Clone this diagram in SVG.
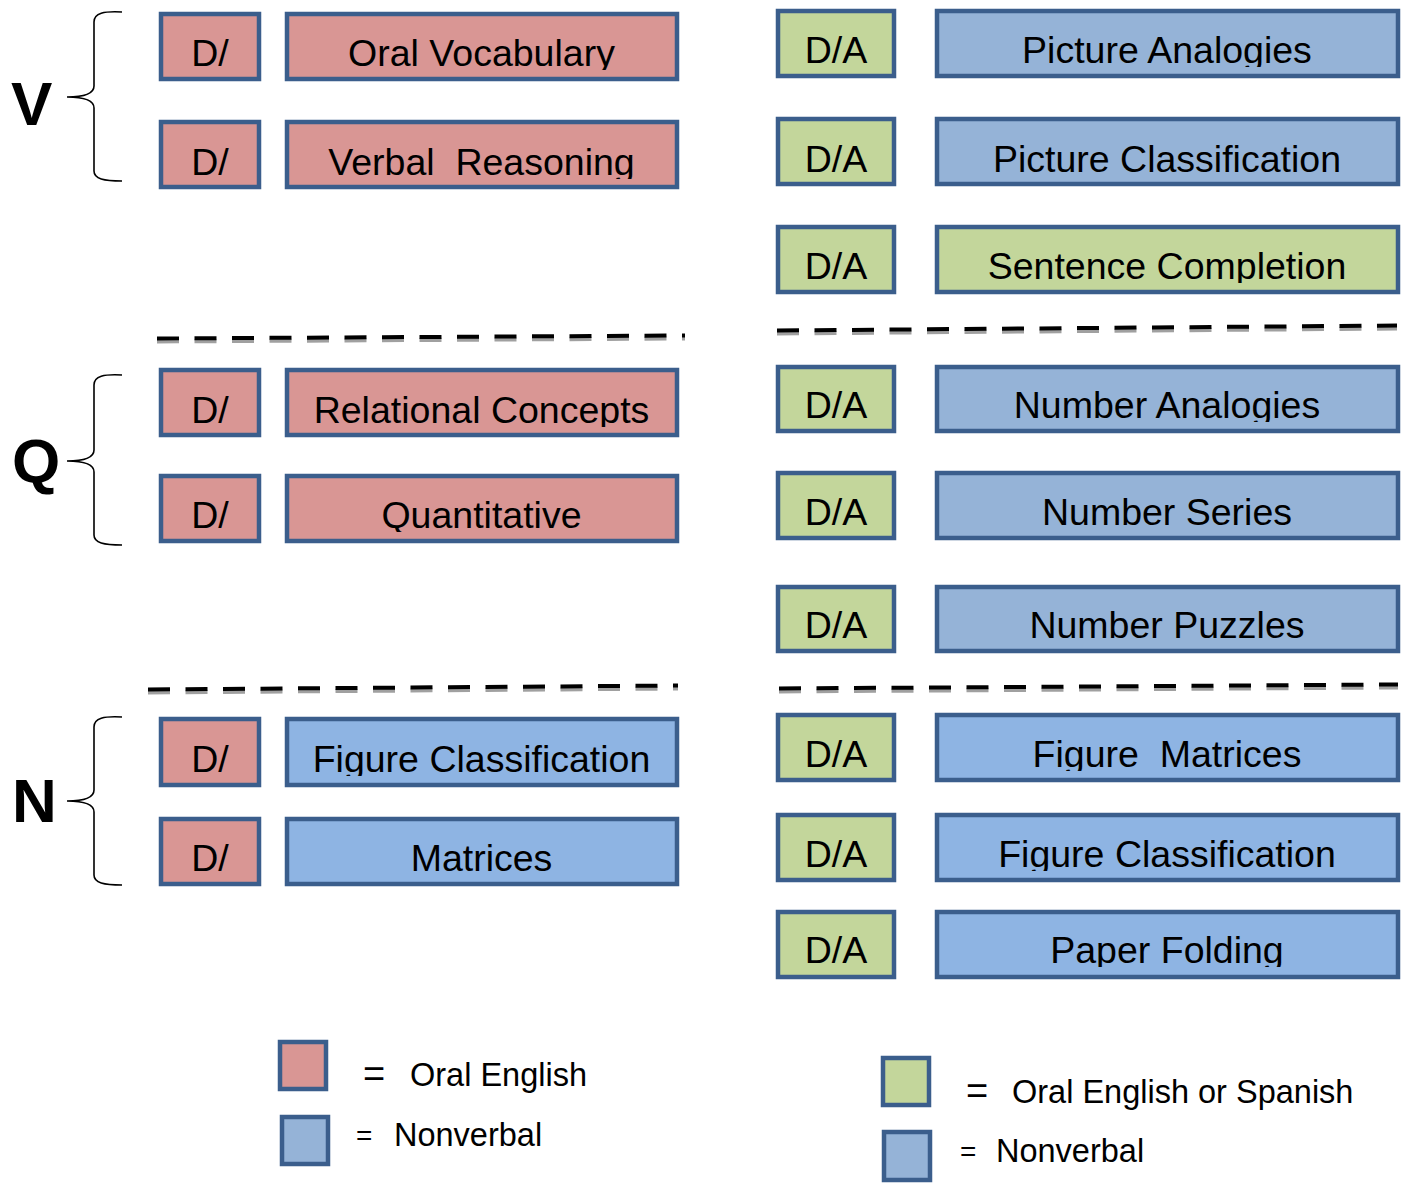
<svg xmlns="http://www.w3.org/2000/svg" width="1405" height="1184" viewBox="0 0 1405 1184">
<style>
.b{stroke:#3B5E8C;stroke-width:4.5}
.pk{fill:#D99694}.bl{fill:#95B3D7}.lb{fill:#8EB4E3}.gr{fill:#C3D69B}
.t{font-family:"Liberation Sans",Arial,sans-serif;font-size:37.5px;fill:#000;text-anchor:middle}
.lg{font-family:"Liberation Sans",Arial,sans-serif;font-size:32.5px;fill:#000}
.big{font-family:"Liberation Sans",Arial,sans-serif;font-size:62px;font-weight:bold;fill:#000}
.br{fill:none;stroke:#000;stroke-width:1.6}
.dk{fill:none;stroke:#000;stroke-width:4;stroke-dasharray:22 15.5}
.ds{fill:none;stroke:#A0A0A0;stroke-width:4;stroke-dasharray:22 15.5}
</style>
<defs>
<clipPath id="cL1"><rect x="285" y="12" width="394" height="58"/></clipPath>
<clipPath id="cL2"><rect x="285" y="120" width="394" height="59"/></clipPath>
<clipPath id="cL3"><rect x="285" y="368" width="394" height="59"/></clipPath>
<clipPath id="cL4"><rect x="285" y="474" width="394" height="58"/></clipPath>
<clipPath id="cL5"><rect x="285" y="717" width="394" height="59"/></clipPath>
<clipPath id="cL6"><rect x="285" y="817" width="394" height="58"/></clipPath>
<clipPath id="cR1"><rect x="935" y="9" width="465" height="58"/></clipPath>
<clipPath id="cR2"><rect x="935" y="117" width="465" height="59"/></clipPath>
<clipPath id="cR3"><rect x="935" y="225" width="465" height="58"/></clipPath>
<clipPath id="cR4"><rect x="935" y="365" width="465" height="57"/></clipPath>
<clipPath id="cR5"><rect x="935" y="471" width="465" height="58"/></clipPath>
<clipPath id="cR6"><rect x="935" y="585" width="465" height="57"/></clipPath>
<clipPath id="cR7"><rect x="935" y="713" width="465" height="58"/></clipPath>
<clipPath id="cR8"><rect x="935" y="813" width="465" height="58"/></clipPath>
<clipPath id="cR9"><rect x="935" y="910" width="465" height="57"/></clipPath>
</defs>
<rect width="1405" height="1184" fill="#fff"/>

<!-- Group labels and braces -->
<g id="group-V">
<text class="big" x="11" y="125">V</text>
<path class="br" d="M122,12 C104,11 94,13 94,22 L94,86 C94,93 85,97 67,97 C85,97 94,101 94,108 L94,171 C94,179 104,181 122,181"/>
</g>
<g id="group-Q">
<text class="big" x="12" y="482">Q</text>
<path class="br" d="M122,375 C104,374 94,376 94,385 L94,450 C94,457 85,461 67,461 C85,461 94,465 94,472 L94,535 C94,543 104,545 122,545"/>
</g>
<g id="group-N">
<text class="big" x="12" y="822">N</text>
<path class="br" d="M122,717 C104,716 94,718 94,727 L94,790 C94,797 85,801 67,801 C85,801 94,805 94,812 L94,875 C94,883 104,885 122,885"/>
</g>

<!-- Separators -->
<g id="connectors">
<path class="ds" d="M157,341.5 L685,338.5"/>
<path class="dk" d="M157,338.5 L685,335.5"/>
<path class="ds" d="M777,333.5 L1397,328.5"/>
<path class="dk" d="M777,330.5 L1397,325.5"/>
<path class="ds" d="M148,692.5 L678,688.5"/>
<path class="dk" d="M148,689.5 L678,685.5"/>
<path class="ds" d="M779,691.5 L1398,687.5"/>
<path class="dk" d="M779,688.5 L1398,684.5"/>
</g>

<!-- Left column -->
<g id="oral-vocabulary">
<rect class="b pk" x="161" y="14" width="98" height="65"/>
<text class="t" x="210" y="66">D/</text>
<rect class="b pk" x="287" y="14" width="390" height="65"/>
<text class="t" x="481.5" y="66" clip-path="url(#cL1)">Oral Vocabulary</text>
</g>
<g id="verbal-reasoning">
<rect class="b pk" x="161" y="122" width="98" height="65"/>
<text class="t" x="210" y="175">D/</text>
<rect class="b pk" x="287" y="122" width="390" height="65"/>
<text class="t" x="481.5" y="175" clip-path="url(#cL2)" xml:space="preserve">Verbal  Reasoning</text>
</g>
<g id="relational-concepts">
<rect class="b pk" x="161" y="370" width="98" height="65"/>
<text class="t" x="210" y="423">D/</text>
<rect class="b pk" x="287" y="370" width="390" height="65"/>
<text class="t" x="481.5" y="423" clip-path="url(#cL3)">Relational Concepts</text>
</g>
<g id="quantitative">
<rect class="b pk" x="161" y="476" width="98" height="65"/>
<text class="t" x="210" y="528">D/</text>
<rect class="b pk" x="287" y="476" width="390" height="65"/>
<text class="t" x="481.5" y="528" clip-path="url(#cL4)">Quantitative</text>
</g>
<g id="figure-classification-left">
<rect class="b pk" x="161" y="719" width="98" height="66"/>
<text class="t" x="210" y="772">D/</text>
<rect class="b lb" x="287" y="719" width="390" height="66"/>
<text class="t" x="481.5" y="772" clip-path="url(#cL5)">Figure Classification</text>
</g>
<g id="matrices">
<rect class="b pk" x="161" y="819" width="98" height="65"/>
<text class="t" x="210" y="871">D/</text>
<rect class="b lb" x="287" y="819" width="390" height="65"/>
<text class="t" x="481.5" y="871" clip-path="url(#cL6)">Matrices</text>
</g>

<!-- Right column -->
<g id="picture-analogies">
<rect class="b gr" x="778" y="11" width="116" height="65"/>
<text class="t" x="836" y="63">D/A</text>
<rect class="b bl" x="937" y="11" width="461" height="65"/>
<text class="t" x="1167" y="63" clip-path="url(#cR1)">Picture Analogies</text>
</g>
<g id="picture-classification">
<rect class="b gr" x="778" y="119" width="116" height="65"/>
<text class="t" x="836" y="172">D/A</text>
<rect class="b bl" x="937" y="119" width="461" height="65"/>
<text class="t" x="1167" y="172" clip-path="url(#cR2)">Picture Classification</text>
</g>
<g id="sentence-completion">
<rect class="b gr" x="778" y="227" width="116" height="65"/>
<text class="t" x="836" y="279">D/A</text>
<rect class="b gr" x="937" y="227" width="461" height="65"/>
<text class="t" x="1167" y="279" clip-path="url(#cR3)">Sentence Completion</text>
</g>
<g id="number-analogies">
<rect class="b gr" x="778" y="367" width="116" height="64"/>
<text class="t" x="836" y="418">D/A</text>
<rect class="b bl" x="937" y="367" width="461" height="64"/>
<text class="t" x="1167" y="418" clip-path="url(#cR4)">Number Analogies</text>
</g>
<g id="number-series">
<rect class="b gr" x="778" y="473" width="116" height="65"/>
<text class="t" x="836" y="525">D/A</text>
<rect class="b bl" x="937" y="473" width="461" height="65"/>
<text class="t" x="1167" y="525" clip-path="url(#cR5)">Number Series</text>
</g>
<g id="number-puzzles">
<rect class="b gr" x="778" y="587" width="116" height="64"/>
<text class="t" x="836" y="638">D/A</text>
<rect class="b bl" x="937" y="587" width="461" height="64"/>
<text class="t" x="1167" y="638" clip-path="url(#cR6)">Number Puzzles</text>
</g>
<g id="figure-matrices">
<rect class="b gr" x="778" y="715" width="116" height="65"/>
<text class="t" x="836" y="767">D/A</text>
<rect class="b lb" x="937" y="715" width="461" height="65"/>
<text class="t" x="1167" y="767" clip-path="url(#cR7)" xml:space="preserve">Figure  Matrices</text>
</g>
<g id="figure-classification-right">
<rect class="b gr" x="778" y="815" width="116" height="65"/>
<text class="t" x="836" y="867">D/A</text>
<rect class="b lb" x="937" y="815" width="461" height="65"/>
<text class="t" x="1167" y="867" clip-path="url(#cR8)">Figure Classification</text>
</g>
<g id="paper-folding">
<rect class="b gr" x="778" y="912" width="116" height="65"/>
<text class="t" x="836" y="963">D/A</text>
<rect class="b lb" x="937" y="912" width="461" height="65"/>
<text class="t" x="1167" y="963" clip-path="url(#cR9)">Paper Folding</text>
</g>

<!-- Legends -->
<g id="legend-left">
<rect class="b pk" x="280" y="1042" width="46" height="47"/>
<text class="lg" x="363" y="1087" style="font-size:38px">=</text>
<text class="lg" x="410" y="1086">Oral English</text>
<rect class="b bl" x="282" y="1117" width="46" height="47"/>
<text class="lg" x="356" y="1145" style="font-size:28px">=</text>
<text class="lg" x="394" y="1146">Nonverbal</text>
</g>
<g id="legend-right">
<rect class="b gr" x="883" y="1058" width="46" height="47"/>
<text class="lg" x="966" y="1104" style="font-size:38px">=</text>
<text class="lg" x="1012" y="1103">Oral English or Spanish</text>
<rect class="b bl" x="884" y="1132" width="46" height="48"/>
<text class="lg" x="960" y="1161" style="font-size:28px">=</text>
<text class="lg" x="996" y="1162">Nonverbal</text>
</g>
</svg>
